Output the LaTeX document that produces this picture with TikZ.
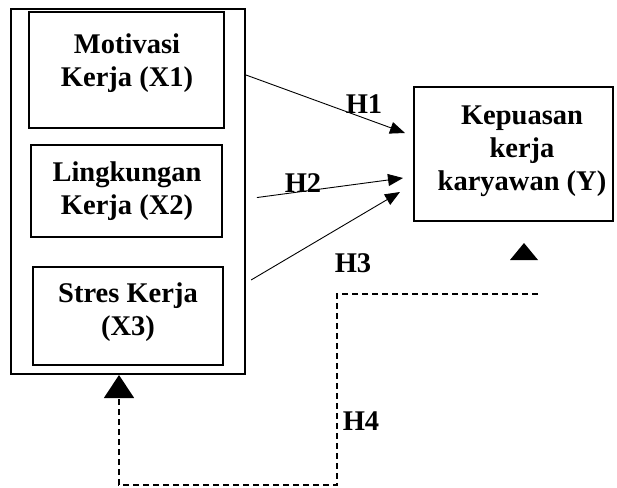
\documentclass[tikz,border=0pt]{standalone}
\usepackage{fontspec}
\setmainfont{Liberation Serif}
\usetikzlibrary{arrows.meta}
\begin{document}
\begin{tikzpicture}[x=1pt,y=-1pt,
  boxstyle/.style={draw,line width=2pt,inner sep=0pt},
  txt/.style={font=\fontsize{28.5}{33}\selectfont\bfseries,align=center,inner sep=0pt},
  hlab/.style={font=\fontsize{28.5}{33}\selectfont\bfseries,inner sep=0pt},
  arr/.style={line width=0.9pt,-{Triangle[length=15pt,width=12pt]}},
  dsh/.style={line width=1.4pt,dash pattern=on 6pt off 4pt}]
\useasboundingbox (0,0) rectangle (617,487);
% outer box
\node[boxstyle,minimum width=234pt,minimum height=365pt] (outer) at (128,191.5) {};
% inner boxes
\node[boxstyle,minimum width=195pt,minimum height=116pt] (b1) at (126.5,70) {};
\node[boxstyle,minimum width=191pt,minimum height=92pt] (b2) at (126.5,191) {};
\node[boxstyle,minimum width=190pt,minimum height=98pt] (b3) at (128,316) {};
\node[boxstyle,minimum width=199pt,minimum height=134pt] (Y) at (513.5,154) {};
% texts
\node[txt] (t1) at (127,63) {Motivasi\\Kerja (X1)};
\node[txt] (t2) at (127,191) {Lingkungan\\Kerja (X2)};
\node[txt] (t3) at (128,312) {Stres Kerja\\(X3)};
\node[txt] (ty) at (522,151) {Kepuasan\\kerja\\karyawan (Y)};
% arrows
\draw[arr] (outer.east |- 0,75) -- (405,133);
\draw[arr,shorten <=11pt] (outer.east |- 0,199) -- (403,178);
\draw[arr,shorten <=6pt] (outer.east |- 0,283) -- (400,192);
% labels
\node[hlab] (h1) at (364,104) {H1};
\node[hlab] (h2) at (303,183) {H2};
\node[hlab] (h3) at (353,263) {H3};
\node[hlab] (h4) at (361,421) {H4};
% dashed feedback
\coordinate (dstart) at (538,294);
\draw[dsh] (dstart) -| (337,485) -| (119,398);
\draw[line width=1.4pt,-{Triangle[length=23pt,width=30pt]}] (119,397) -- (outer.south -| 119,0);
% floating arrowhead below Y
\fill (510,260) -- (538,260) -- (524,243) -- cycle;
\end{tikzpicture}
\end{document}
